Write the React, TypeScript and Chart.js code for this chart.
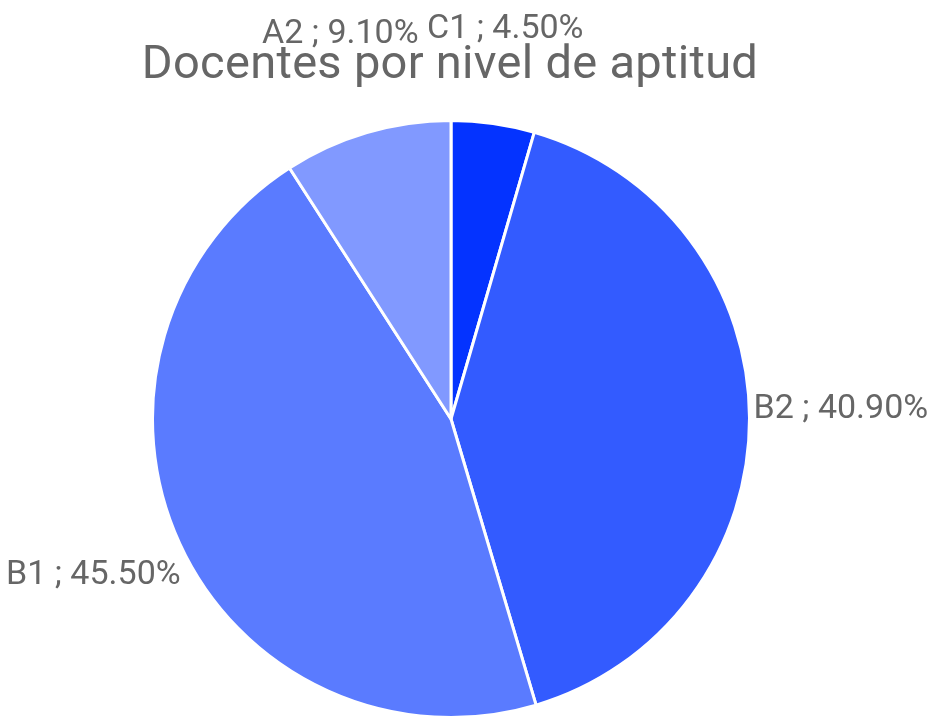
import React, { useEffect, useRef } from "react";
import { Chart, registerables } from "chart.js";

Chart.register(...registerables);

const categories = ["C1", "B2", "B1", "A2"];
const percentages = [4.5, 40.9, 45.5, 9.1];
const sliceColors = ["#0433FF", "#335BFF", "#5A7BFF", "#8199FF"];
const chartTitle = "Docentes por nivel de aptitud";

const LABEL_FONT = "34px Roboto";
const TITLE_FONT = "47px Roboto";
const TEXT_COLOR = "#666666";

const titleAndLabels = {
  id: "titleAndLabels",
  afterDraw(chart: any) {
    const ctx = chart.ctx;
    const area = chart.chartArea;
    // title
    ctx.save();
    ctx.font = TITLE_FONT;
    ctx.fillStyle = TEXT_COLOR;
    (ctx as any).letterSpacing = "0.3px";
    ctx.textAlign = "center";
    ctx.textBaseline = "alphabetic";
    ctx.fillText(chartTitle, (area.left + area.right) / 2 - 1, area.top - 41);
    ctx.restore();

    // outside labels
    const meta = chart.getDatasetMeta(0);
    ctx.save();
    ctx.font = LABEL_FONT;
    ctx.fillStyle = TEXT_COLOR;
    ctx.textAlign = "center";
    ctx.textBaseline = "middle";
    meta.data.forEach((arc: any, i: number) => {
      const p = arc.getProps(["x", "y", "startAngle", "endAngle", "outerRadius"], true);
      const mid = (p.startAngle + p.endAngle) / 2;
      const dx = Math.cos(mid);
      const dy = Math.sin(mid);
      const text = `${categories[i]} ; ${percentages[i].toFixed(2)}%`;
      const w = ctx.measureText(text).width;
      const h = 38;
      const offset = 4 + (dy < 0 ? 54 * dy * dy : 9 * dy);
      const R = p.outerRadius + offset;
      const s = Math.abs(dx) * w / 2 + Math.abs(dy) * h / 2;
      const cx = p.x + dx * (R + s);
      const cy = p.y + dy * (R + s) - 8;
      ctx.fillText(text, cx, cy);
    });
    ctx.restore();
  },
};

export default function App() {
  const ref = useRef<HTMLCanvasElement>(null);
  useEffect(() => {
    document.body.style.margin = "0";
    const chart = new Chart(ref.current!, {
      type: "pie",
      data: {
        labels: categories,
        datasets: [
          {
            data: percentages,
            backgroundColor: sliceColors,
            borderColor: "#ffffff",
            borderWidth: 3,
          },
        ],
      },
      options: {
        animation: false,
        responsive: false,
        layout: { padding: { left: 0, right: 31, top: 119, bottom: 1 } },
        plugins: {
          legend: { display: false },
          tooltip: { enabled: false },
          title: { display: false },
        },
      },
      plugins: [titleAndLabels],
    });
    return () => chart.destroy();
  }, []);
  return (
    <div style={{ width: 933, height: 720 }}>
      <canvas ref={ref} width={933} height={720} style={{ display: "block" }} />
    </div>
  );
}
